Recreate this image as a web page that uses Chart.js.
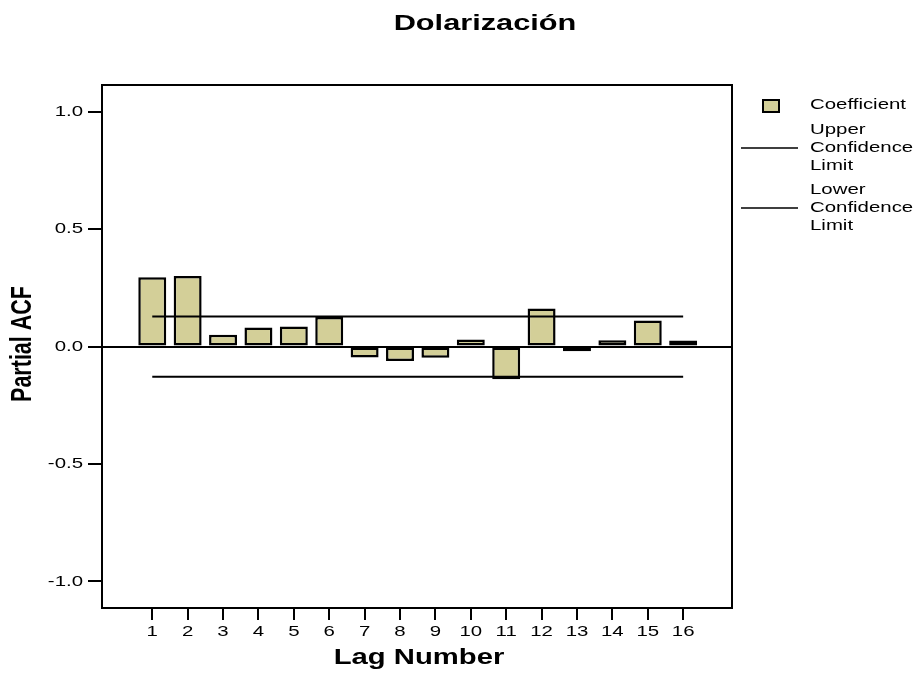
<!DOCTYPE html>
<html>
<head>
<meta charset="utf-8">
<script src="https://cdn.jsdelivr.net/npm/chart.js@4.4.1/dist/chart.umd.min.js"></script>
<style>
  html, body { margin: 0; padding: 0; background: #fff; }
  canvas { display: block; }
</style>
</head>
<body>
<canvas id="acf" width="922" height="675"></canvas>
<script>
// values
const lags = [1, 2, 3, 4, 5, 6, 7, 8, 9, 10, 11, 12, 13, 14, 15, 16];
const coefficient = [0.295, 0.300, 0.050, 0.081, 0.085, 0.126, -0.047, -0.062,
  -0.048, 0.030, -0.139, 0.162, -0.020, 0.027, 0.111, 0.026];
const upperLimit = [0.128, 0.128];
const lowerLimit = [-0.129, -0.129];
const limitLags = [1, 16];
const yTickValues = [-1, -0.5, 0, 0.5, 1];
const yTickLabels = ['-1.0', '-0.5', '0.0', '0.5', '1.0'];
const xTickLabels = lags.map(String);

const FONT = '"Liberation Sans", Arial, sans-serif';
const SX = 1.36; // the original output is stretched sideways
const barColor = '#d3cf98';

function stretchText(ctx, text, x, y, font, align, rotate) {
  ctx.save();
  ctx.translate(x, y);
  ctx.scale(SX, 1);
  if (rotate) ctx.rotate(-Math.PI / 2);
  ctx.font = font;
  ctx.fillStyle = '#000';
  ctx.textAlign = align;
  ctx.textBaseline = 'middle';
  ctx.fillText(text, 0, 0);
  ctx.restore();
}

const textPlugin = {
  id: 'spssText',
  afterDraw(chart) {
    const ctx = chart.ctx;
    const { left, top, right, bottom } = chart.chartArea;
    const xs = chart.scales.x, ys = chart.scales.y;

    // frame
    ctx.save();
    ctx.strokeStyle = '#000';
    ctx.lineWidth = 2;
    ctx.strokeRect(left, top, right - left, bottom - top);
    ctx.restore();

    // tick labels
    yTickValues.forEach((v, i) => {
      stretchText(ctx, yTickLabels[i], 83, ys.getPixelForValue(v), '15px ' + FONT, 'right');
    });
    lags.forEach((v, i) => {
      stretchText(ctx, xTickLabels[i], xs.getPixelForValue(v), 632, '15px ' + FONT, 'center');
    });

    // titles
    stretchText(ctx, 'Dolarización', 485, 24, 'bold 22.6px ' + FONT, 'center');
    stretchText(ctx, 'Lag Number', (left + right) / 2 + 2, 658, 'bold 21.5px ' + FONT, 'center');
    stretchText(ctx, 'Partial ACF', 23, 344, 'bold 21.5px ' + FONT, 'center', true);

    // legend
    ctx.save();
    ctx.fillStyle = barColor;
    ctx.strokeStyle = '#000';
    ctx.lineWidth = 2;
    ctx.fillRect(763, 100, 16, 12);
    ctx.strokeRect(763, 100, 16, 12);
    ctx.lineWidth = 1.5;
    ctx.beginPath();
    ctx.moveTo(741, 148); ctx.lineTo(798, 148);
    ctx.moveTo(741, 208); ctx.lineTo(798, 208);
    ctx.stroke();
    ctx.restore();
    const lf = '15px ' + FONT;
    stretchText(ctx, 'Coefficient', 810, 105, lf, 'left');
    stretchText(ctx, 'Upper', 810, 129.5, lf, 'left');
    stretchText(ctx, 'Confidence', 810, 147.5, lf, 'left');
    stretchText(ctx, 'Limit', 810, 166, lf, 'left');
    stretchText(ctx, 'Lower', 810, 190, lf, 'left');
    stretchText(ctx, 'Confidence', 810, 208, lf, 'left');
    stretchText(ctx, 'Limit', 810, 226, lf, 'left');
  }
};

new Chart(document.getElementById('acf'), {
  type: 'bar',
  data: {
    datasets: [
      {
        type: 'line',
        label: 'Upper Confidence Limit',
        data: limitLags.map((l, i) => ({ x: l, y: upperLimit[i] })),
        borderColor: '#000',
        borderWidth: 2,
        pointRadius: 0,
        fill: false,
        order: 0
      },
      {
        type: 'line',
        label: 'Lower Confidence Limit',
        data: limitLags.map((l, i) => ({ x: l, y: lowerLimit[i] })),
        borderColor: '#000',
        borderWidth: 2,
        pointRadius: 0,
        fill: false,
        order: 0
      },
      {
        label: 'Coefficient',
        data: lags.map((l, i) => ({ x: l, y: coefficient[i] })),
        backgroundColor: barColor,
        borderColor: '#000',
        borderWidth: 2.5,
        borderSkipped: false,
        barPercentage: 0.79,
        categoryPercentage: 1,
        order: 1
      }
    ]
  },
  options: {
    responsive: false,
    animation: false,
    layout: { padding: { left: 88, top: 85, right: 190, bottom: 54 } },
    plugins: { legend: { display: false }, tooltip: { enabled: false } },
    scales: {
      x: {
        type: 'linear',
        min: -0.42,
        max: 17.38,
        offset: false,
        afterBuildTicks: (scale) => { scale.ticks = lags.map(v => ({ value: v })); },
        afterFit: (scale) => { scale.height = 13; },
        ticks: { display: false, autoSkip: false },
        border: { display: false },
        grid: {
          offset: false,
          drawOnChartArea: false,
          drawTicks: true,
          tickLength: 12,
          tickColor: '#000',
          lineWidth: 2
        }
      },
      y: {
        min: -1.113,
        max: 1.113,
        afterBuildTicks: (scale) => { scale.ticks = yTickValues.map(v => ({ value: v })); },
        afterFit: (scale) => { scale.width = 14; },
        ticks: { display: false },
        border: { display: false },
        grid: {
          drawOnChartArea: true,
          drawTicks: true,
          tickLength: 14,
          tickColor: '#000',
          lineWidth: 2,
          color: (c) => (c.tick && c.tick.value === 0 ? '#000' : 'rgba(0,0,0,0)')
        }
      }
    }
  },
  plugins: [textPlugin]
});
</script>
</body>
</html>
